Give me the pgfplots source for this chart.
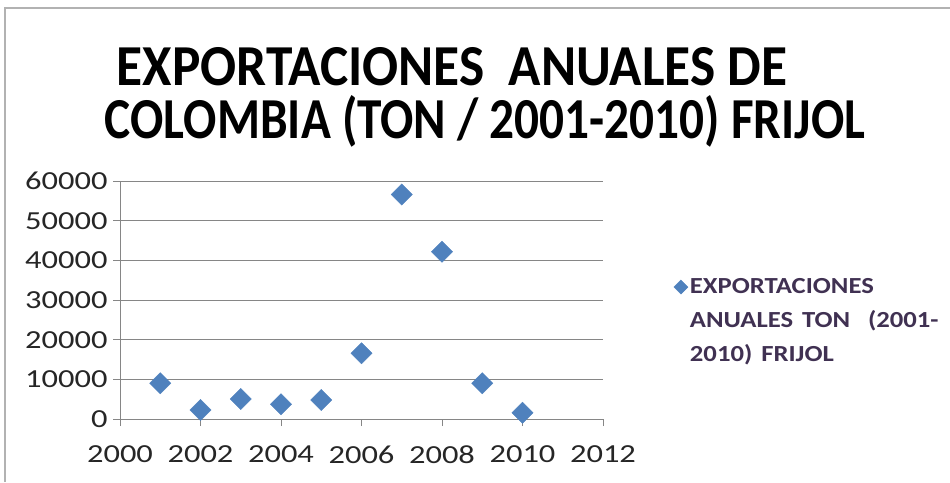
\documentclass[border=0pt]{standalone}
\usepackage{fontspec}
\setmainfont{Carlito}
\usepackage{pgfplots}
\pgfplotsset{compat=1.18}
\definecolor{mblue}{RGB}{79,129,189}
\definecolor{lgtext}{RGB}{64,49,82}
\definecolor{gridc}{RGB}{134,134,134}
\newcommand{\wx}[1]{\scalebox{1.16}[1]{#1}}
\begin{document}
\begin{tikzpicture}
\useasboundingbox (0pt,0pt) rectangle (950pt,482pt);
\draw[gray!60, line width=2.5pt] (5pt,0pt) -- (5pt,474pt) -- (950pt,474pt);
\node[font=\fontsize{58}{62}\selectfont\bfseries, anchor=base, inner sep=0pt] at (452pt,396pt) {\scalebox{0.92}[1]{EXPORTACIONES \ ANUALES DE}};
\node[font=\fontsize{58}{62}\selectfont\bfseries, anchor=base, inner sep=0pt] at (485pt,343pt) {\scalebox{0.85}[1]{COLOMBIA (TON / 2001-2010) FRIJOL}};
\begin{axis}[
  at={(120pt,63pt)}, anchor=south west,
  scale only axis, width=483pt, height=238pt,
  xmin=2000, xmax=2012, ymin=0, ymax=60000,
  xtick={2000,2002,...,2012}, ytick={0,10000,...,60000},
  axis lines*=left,
  axis line style={gridc, line width=1pt},
  ymajorgrids, grid style={gridc, line width=1pt},
  tick style={gridc, line width=1pt}, tick align=outside, major tick length=7pt,
  scaled ticks=false,
  xticklabel={\scalebox{1.25}[1]{\pgfmathprintnumber[assume math mode=true,1000 sep={}]{\tick}}},
  yticklabel={\scalebox{1.25}[1]{\pgfmathprintnumber[assume math mode=true,1000 sep={}]{\tick}}},
  tick label style={font=\fontsize{26}{30}\selectfont, text=black!85},
  xticklabel style={yshift=-16pt},
  yticklabel style={xshift=-2pt},
  legend style={at={(axis description cs:1.14,0.607)}, anchor=north west, draw=none, fill=none,
    font=\fontsize{23}{34}\selectfont\bfseries, text=lgtext,
    nodes={text width=270pt, align=left}},
  legend cell align=left,
]
\addplot[only marks, mark=square*, mark size=7.5pt, mark options={rotate=45, fill=mblue, draw=mblue},
  legend image post style={mark size=5pt}]
coordinates {
(2001,9000) (2002,2270) (2003,5040) (2004,3700) (2005,4780)
(2006,16550) (2007,56600) (2008,42150) (2009,9000) (2010,1600)
};
\addlegendentry{\wx{EXPORTACIONES}\\\wx{ANUALES TON \ (2001-}\\\wx{2010) FRIJOL}}
\end{axis}
\end{tikzpicture}
\end{document}
